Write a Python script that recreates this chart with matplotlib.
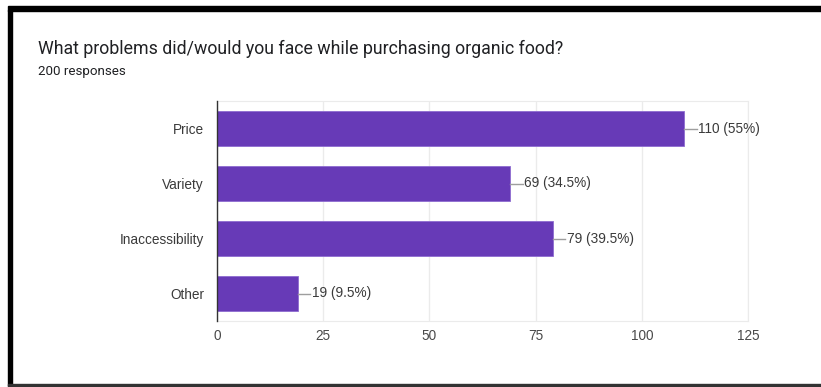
import matplotlib.pyplot as plt
from matplotlib.patches import Rectangle

categories = ["Price", "Variety", "Inaccessibility", "Other"]
counts = [110, 69, 79, 19]
total = 200
xticks = [0, 25, 50, 75, 100, 125]

purple = "#673ab7"
grid = "#ebebeb"

fig = plt.figure(figsize=(8.21, 3.87), dpi=100)
fig.patch.set_facecolor("white")

# black frame around the card (top, left, bottom)
fig.patches.append(Rectangle((8 / 821, 1 - 11 / 387), 1, 5 / 387, transform=fig.transFigure,
                             color="black", zorder=0))
fig.patches.append(Rectangle((8 / 821, 1 / 387), 4 / 821, 1 - 11 / 387, transform=fig.transFigure,
                             color="black", zorder=0))
fig.patches.append(Rectangle((8 / 821, 1 / 387), 1, 2 / 387, transform=fig.transFigure,
                             color="#333333", zorder=0))

fig.text(38 / 821, 1 - 49 / 387, "What problems did/would you face while purchasing organic food?",
         fontsize=12.8, color="#202124", va="center", ha="left", family="Roboto")
fig.text(38 / 821, 1 - 71 / 387, f"{total} responses",
         fontsize=9.6, color="#202124", va="center", ha="left", family="Roboto")

ax = fig.add_axes([217 / 821, 1 - 321 / 387, (748 - 217) / 821, (321 - 101) / 387])
y = list(range(len(categories)))
ax.barh(y, counts, height=0.62, color=purple, edgecolor="#8e6cd0", linewidth=0.6, zorder=2)

# leader line plus "count (percent)" label at each bar end
for yi, c in zip(y, counts):
    ax.plot([c, c + 3], [yi, yi], color="#9e9e9e", lw=1, zorder=2)
    ax.text(c + 3.3, yi, f"{c} ({c / total * 100:g}%)", va="center", ha="left",
            fontsize=9.8, color="#3a3a3a", family="Liberation Sans")

ax.set_xlim(0, 125)
ax.set_ylim(3.5, -0.5)
ax.set_xticks(xticks)
ax.set_xticklabels([str(t) for t in xticks], fontsize=9.8, color="#4a4a4a", family="Liberation Sans")
ax.set_yticks(y)
ax.set_yticklabels(categories, fontsize=9.8, color="#3a3a3a", family="Liberation Sans")
ax.tick_params(length=0, pad=9.4, axis="y")
ax.tick_params(length=0, pad=6, axis="x")
ax.grid(axis="x", color=grid, lw=1, zorder=0)
for s in ["top", "right", "bottom"]:
    ax.spines[s].set_color(grid)
ax.spines["left"].set_color("#333333")
ax.spines["left"].set_linewidth(1)
ax.spines["left"].set_zorder(3)

fig.savefig("out.png", dpi=100)
